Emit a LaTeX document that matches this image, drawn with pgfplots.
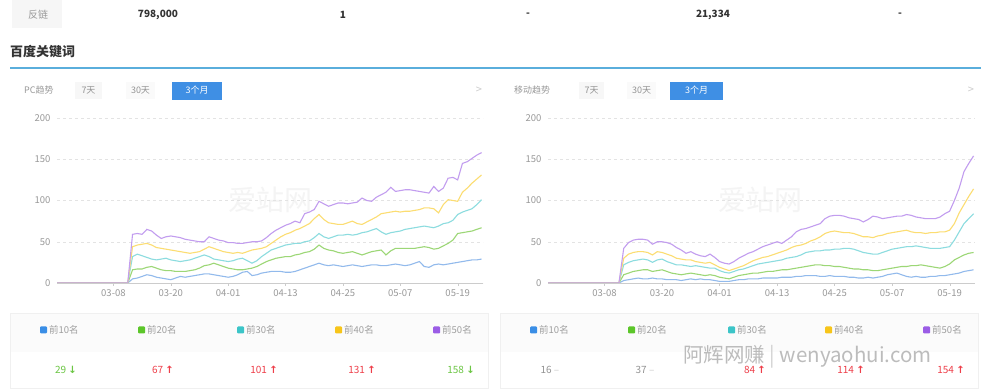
\documentclass[border=0pt]{standalone}
\usepackage{fontspec}
\setmainfont{Noto Sans CJK SC}
\newfontfamily\sym{DejaVu Sans}
\usepackage{pgfplots}
\usepackage{pgfplotstable}
\pgfplotsset{compat=1.18}
\definecolor{sqBlue}{HTML}{3A8EE6}
\definecolor{sqGreen}{HTML}{5CC62A}
\definecolor{sqCyan}{HTML}{3CC5C8}
\definecolor{sqYellow}{HTML}{F7C51A}
\definecolor{sqPurple}{HTML}{9B5DE6}
\definecolor{lnBlue}{HTML}{92BAEC}
\definecolor{lnGreen}{HTML}{9CD776}
\definecolor{lnCyan}{HTML}{8CDCDF}
\definecolor{lnYellow}{HTML}{FCDD72}
\definecolor{lnPurple}{HTML}{C29DEF}
\definecolor{btnBlue}{HTML}{3F8FE4}
\definecolor{hdrBlue}{HTML}{5AAEDC}
\definecolor{upRed}{HTML}{EE3F4A}
\definecolor{downGreen}{HTML}{6CC644}
\definecolor{txtGrey}{HTML}{999999}
\definecolor{txtDark}{HTML}{333333}

\pgfplotstableread{
d t10 t20 t30 t40 t50
-12 0 0 0 0 0
3 0 0 0 0 0
4 5 16 32 44 59
5 6 17 35 46 60
6 8 17 33 47 59
7 10 19 31 48 65
8 9 20 29 46 63
9 7 18 28 43 58
10 6 16 29 42 54
11 5 15 30 41 56
12 4 15 28 40 57
13 6 14 27 39 56
14 8 14 26 38 55
15 7 14 27 37 53
16 8 15 28 36 52
17 9 16 30 37 51
18 10 18 32 38 50
19 11 21 34 41 50
20 11 22 32 44 56
21 10 24 29 42 54
22 9 22 28 40 52
23 8 20 27 38 51
24 7 18 26 37 49
25 8 17 27 36 49
26 10 16 29 37 48
27 13 16 30 36 48
28 14 17 27 38 49
29 9 18 24 40 50
30 10 20 27 41 50
31 12 23 32 42 51
32 13 26 36 44 55
33 14 28 40 48 60
34 14 30 42 52 64
35 14 31 44 56 67
36 13 32 46 59 70
37 13 32 47 61 72
38 14 34 48 64 75
39 16 35 48 66 73
40 18 37 50 69 84
41 20 38 51 72 86
42 22 41 55 78 89
43 24 46 60 83 99
44 22 42 56 77 96
45 21 40 54 73 93
46 22 39 56 72 95
47 21 37 58 71 97
48 20 36 58 71 97
49 21 37 59 73 96
50 22 38 58 75 97
51 21 36 59 72 98
52 20 34 61 71 103
53 21 36 62 74 100
54 22 38 64 77 99
55 22 39 66 80 104
56 21 40 62 84 107
57 21 34 59 85 110
58 22 39 61 86 116
59 23 42 62 87 111
60 22 42 63 86 112
61 21 42 65 87 113
62 22 42 66 87 113
63 24 42 67 88 112
64 26 43 68 89 111
65 20 44 69 91 110
66 19 43 68 91 109
67 22 41 67 90 117
68 23 42 69 85 111
69 22 45 72 95 115
70 23 48 73 101 127
71 24 52 76 100 128
72 25 60 83 99 125
73 26 61 86 110 145
74 27 62 88 115 147
75 28 63 90 121 151
76 28 65 95 126 155
77 29 67 101 131 158
}\pcdata

\pgfplotstableread{
d t10 t20 t30 t40 t50
-12 0 0 0 0 0
3 0 0 0 0 0
4 3 10 22 30 42
5 4 12 25 35 49
6 5 14 27 37 52
7 6 15 28 38 53
8 5 16 29 38 53
9 5 16 28 37 52
10 6 14 25 34 47
11 5 15 28 38 50
12 5 16 29 37 50
13 4 14 26 35 49
14 4 12 24 33 47
15 4 11 22 30 43
16 3 10 22 29 40
17 4 11 21 28 36
18 5 12 20 28 38
19 4 11 21 26 35
20 5 10 20 25 33
21 4 9 19 24 32
22 4 10 18 25 35
23 3 9 18 22 31
24 2 7 15 19 26
25 2 6 13 17 24
26 2 5 12 15 23
27 3 7 14 17 26
28 4 9 16 19 30
29 4 10 17 21 33
30 5 11 19 24 36
31 5 12 21 27 38
32 5 12 23 29 41
33 6 13 24 31 44
34 6 14 25 32 46
35 6 14 26 34 48
36 6 15 27 36 50
37 7 16 28 38 48
38 7 16 30 40 52
39 7 17 31 43 56
40 8 18 32 45 62
41 8 19 34 46 65
42 9 20 37 48 66
43 9 21 38 51 68
44 9 22 39 53 70
45 8 22 39 56 72
46 8 21 40 60 78
47 9 21 40 62 81
48 8 20 41 63 82
49 8 20 41 62 82
50 8 19 42 61 81
51 7 18 42 61 79
52 7 17 41 60 78
53 6 17 39 58 77
54 6 16 37 56 74
55 7 16 36 56 77
56 6 15 35 55 81
57 7 15 35 57 80
58 8 16 37 58 78
59 10 17 39 60 79
60 11 18 41 61 80
61 12 19 42 62 81
62 10 20 43 63 81
63 8 20 44 64 83
64 7 21 44 62 82
65 8 21 45 61 80
66 7 22 44 61 79
67 7 21 43 60 78
68 8 20 42 61 78
69 8 19 42 61 78
70 9 18 42 62 80
71 9 20 43 62 84
72 10 23 44 64 87
73 11 28 52 72 100
74 12 31 62 85 115
75 14 34 72 95 135
76 15 36 78 105 145
77 16 37 84 114 154
}\mobdata

\pgfplotsset{
  trend/.style={
    scale only axis, width=426pt, height=165pt,
    xmin=-11.8, xmax=77.3, ymin=0, ymax=200,
    axis lines*=left, y axis line style={draw=none},
    x axis line style={draw=gray!40},
    xtick={0,12,24,36,48,60,72},
    xticklabels={03-08,03-20,04-01,04-13,04-25,05-07,05-19},
    ytick={0,50,100,150,200},
    tick align=outside, major tick length=3pt,
    xtick style={draw=gray!40},
    ytick style={draw=none},
    ymajorgrids, major grid style={dashed, gray!22},
    tick label style={font=\fontsize{9.5}{11}\selectfont, text=txtGrey},
    /pgf/number format/assume math mode=true,
    every axis plot/.append style={line width=1.1pt, mark=none},
  }
}

\newcommand{\legitem}[3]{%
  \fill[#2,rounded corners=1pt] (#1,56.5) rectangle ++(7,7);
  \node[anchor=west,inner sep=0pt,text=gray!75,font=\fontsize{9.5}{11}\selectfont] at ({#1+9},60) {#3};
}

\begin{document}
\begin{tikzpicture}
\useasboundingbox (0pt,0pt) rectangle (981pt,390pt);
\begin{scope}[x=1pt,y=1pt]
\fill[white] (0,0) rectangle (981,390);

% top table row
\fill[gray!7] (12,362) rectangle (62,390);
\node[text=txtGrey,font=\fontsize{10}{12}\selectfont] at (38,375) {反链};
\node[text=txtDark,font=\fontsize{10}{12}\selectfont\bfseries] at (158,375) {798,000};
\node[text=txtDark,font=\fontsize{10}{12}\selectfont\bfseries] at (343,375) {1};
\node[text=txtDark,font=\fontsize{10}{12}\selectfont\bfseries] at (528,375) {-};
\node[text=txtDark,font=\fontsize{10}{12}\selectfont\bfseries] at (713,375) {21,334};
\node[text=txtDark,font=\fontsize{10}{12}\selectfont\bfseries] at (900,375) {-};

% section title
\node[anchor=west,inner sep=0pt,text=txtDark,font=\fontsize{13}{15}\selectfont\bfseries] at (10,338) {百度关键词};
\draw[hdrBlue,line width=1.6pt] (10,322) -- (981,322);

% panel headers
\node[anchor=west,inner sep=0pt,text=gray!80,font=\fontsize{9}{11}\selectfont] at (24,300) {PC趋势};
\fill[gray!6] (75,291) rectangle (102,308);
\node[text=gray!85,font=\fontsize{9}{11}\selectfont] at (88.5,300) {7天};
\fill[gray!4] (126,291) rectangle (155,308);
\node[text=gray!85,font=\fontsize{9}{11}\selectfont] at (140.5,300) {30天};
\fill[btnBlue] (172,290) rectangle (222,308);
\node[text=white,font=\fontsize{9}{11}\selectfont] at (197,299.5) {3个月};
\node[text=gray!40,font=\fontsize{11}{12}\selectfont] at (479,300) {>};

\node[anchor=west,inner sep=0pt,text=gray!80,font=\fontsize{9}{11}\selectfont] at (514,300) {移动趋势};
\fill[gray!6] (579,291) rectangle (604,308);
\node[text=gray!85,font=\fontsize{9}{11}\selectfont] at (591.5,300) {7天};
\fill[gray!4] (627,291) rectangle (656,308);
\node[text=gray!85,font=\fontsize{9}{11}\selectfont] at (641.5,300) {30天};
\fill[btnBlue] (670,290) rectangle (723,308);
\node[text=white,font=\fontsize{9}{11}\selectfont] at (696.5,299.5) {3个月};
\node[text=gray!40,font=\fontsize{11}{12}\selectfont] at (971,300) {>};

% faint chart watermarks
\node[text=gray!9,font=\fontsize{28}{30}\selectfont] at (270,190) {爱站网};
\node[text=gray!9,font=\fontsize{28}{30}\selectfont] at (760,190) {爱站网};

% legend boxes
\fill[gray!3] (10,38) rectangle (488,77);
\draw[gray!12] (10,2) rectangle (488,77);
\fill[gray!3] (500,38) rectangle (978,77);
\draw[gray!12] (500,2) rectangle (978,77);
\end{scope}

% PC chart
\begin{axis}[trend, at={(57pt,107pt)}, anchor=south west]
\addplot[lnBlue] table[x=d,y=t10] {\pcdata};
\addplot[lnGreen] table[x=d,y=t20] {\pcdata};
\addplot[lnCyan] table[x=d,y=t30] {\pcdata};
\addplot[lnYellow] table[x=d,y=t40] {\pcdata};
\addplot[lnPurple] table[x=d,y=t50] {\pcdata};
\end{axis}

% mobile chart
\begin{axis}[trend, at={(548pt,107pt)}, anchor=south west, width=427pt]
\addplot[lnBlue] table[x=d,y=t10] {\mobdata};
\addplot[lnGreen] table[x=d,y=t20] {\mobdata};
\addplot[lnCyan] table[x=d,y=t30] {\mobdata};
\addplot[lnYellow] table[x=d,y=t40] {\mobdata};
\addplot[lnPurple] table[x=d,y=t50] {\mobdata};
\end{axis}

\begin{scope}[x=1pt,y=1pt]
% legends
\legitem{40}{sqBlue}{前10名}
\legitem{138}{sqGreen}{前20名}
\legitem{237}{sqCyan}{前30名}
\legitem{335}{sqYellow}{前40名}
\legitem{433}{sqPurple}{前50名}
\legitem{530}{sqBlue}{前10名}
\legitem{628}{sqGreen}{前20名}
\legitem{728}{sqCyan}{前30名}
\legitem{825}{sqYellow}{前40名}
\legitem{923}{sqPurple}{前50名}

% values
\begin{scope}[every node/.style={font=\fontsize{10}{12}\selectfont}]
\node[text=downGreen] at (66,20) {29 {\sym\bfseries ↓}};
\node[text=upRed] at (163,20) {67 {\sym\bfseries ↑}};
\node[text=upRed] at (264,20) {101 {\sym\bfseries ↑}};
\node[text=upRed] at (362,20) {131 {\sym\bfseries ↑}};
\node[text=downGreen] at (461,20) {158 {\sym\bfseries ↓}};
\node[text=gray!85] at (550,20) {16 {\color{gray!40}–}};
\node[text=gray!85] at (645,20) {37 {\color{gray!40}–}};
\node[text=upRed] at (755,20) {84 {\sym\bfseries ↑}};
\node[text=upRed] at (851,20) {114 {\sym\bfseries ↑}};
\node[text=upRed] at (951,20) {154 {\sym\bfseries ↑}};
\end{scope}

% page watermark
\node[anchor=west,inner sep=0pt,text=gray!65,opacity=0.8,font=\fontsize{20.5}{22}\selectfont] at (683,33) {阿辉网赚 {\color{gray!45}|} wenyaohui.com};
\end{scope}
\end{tikzpicture}
\end{document}
